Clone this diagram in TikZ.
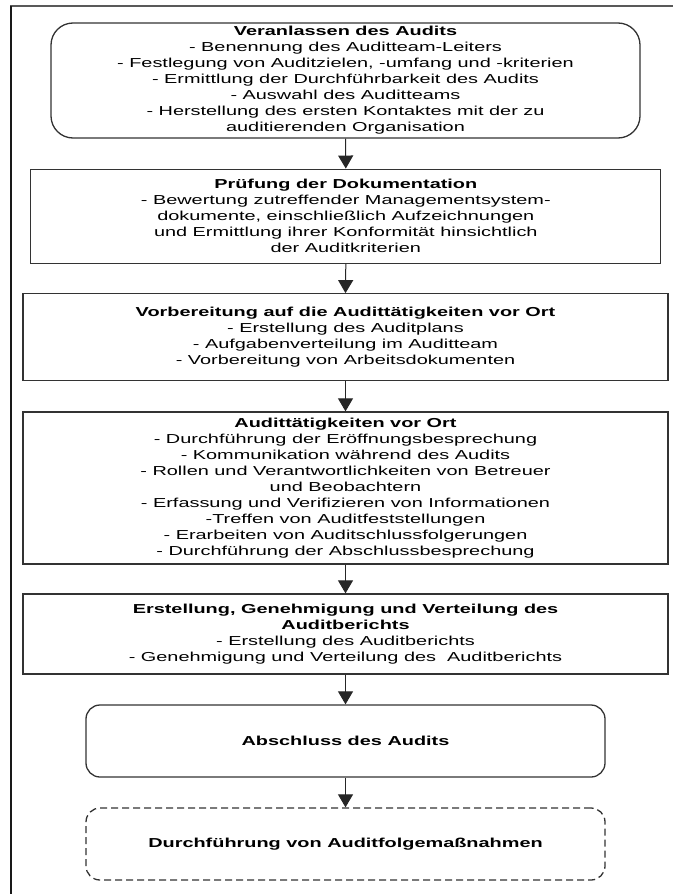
\documentclass[tikz,border=0pt]{standalone}
\usepackage{fontspec}
\setmainfont[FakeStretch=1.53]{Liberation Sans}
\usetikzlibrary{arrows.meta}
\tikzset{
  box/.style={draw=black!80, line width=1.3pt, rectangle, align=center, inner sep=0pt,
    font=\fontsize{13}{16}\selectfont},
  multi/.style={execute at begin node={\rule{0pt}{14.5pt}}},
  rbox/.style={box, rounded corners=22pt},
  dbox/.style={box, rounded corners=14pt, dash pattern=on 7pt off 4pt},
  flow/.style={line width=1pt, draw=black!85, -{Triangle[width=15pt,length=13pt]}},
}
\begin{document}
\begin{tikzpicture}[x=1pt,y=-1pt]
\useasboundingbox (0,0) rectangle (673,894);
% frame
\draw[line width=2pt, black!65] (10,6) -- (673,6);
\draw[line width=1.2pt, black!90] (11,6) -- (11,894);
% boxes
\node[rbox, multi, minimum width=589pt, minimum height=115pt] (b1) at (345.5,80.5)
  {\textbf{Veranlassen des Audits}\\
   - Benennung des Auditteam-Leiters\\
   - Festlegung von Auditzielen, -umfang und -kriterien\\
   - Ermittlung der Durchführbarkeit des Audits\\
   - Auswahl des Auditteams\\
   - Herstellung des ersten Kontaktes mit der zu\\
   auditierenden Organisation};
\node[box, multi, minimum width=630pt, minimum height=94pt] (b2) at (345.8,216.2)
  {\textbf{Prüfung der Dokumentation}\\
   - Bewertung zutreffender Managementsystem-\\
   dokumente, einschließlich Aufzeichnungen\\
   und Ermittlung ihrer Konformität hinsichtlich\\
   der Auditkriterien};
\node[box, multi, minimum width=645pt, minimum height=87pt] (b3) at (345.5,337.3)
  {\textbf{Vorbereitung auf die Audittätigkeiten vor Ort}\\
   - Erstellung des Auditplans\\
   - Aufgabenverteilung im Auditteam\\
   - Vorbereitung von Arbeitsdokumenten};
\node[box, multi, minimum width=645pt, minimum height=152pt] (b4) at (345.5,488)
  {\textbf{Audittätigkeiten vor Ort}\\
   - Durchführung der Eröffnungsbesprechung\\
   - Kommunikation während des Audits\\
   - Rollen und Verantwortlichkeiten von Betreuer\\
   und Beobachtern\\
   - Erfassung und Verifizieren von Informationen\\
   -Treffen von Auditfeststellungen\\
   - Erarbeiten von Auditschlussfolgerungen\\
   - Durchführung der Abschlussbesprechung};
\node[box, multi, minimum width=645pt, minimum height=80pt] (b5) at (345.5,634)
  {\textbf{Erstellung, Genehmigung und Verteilung des}\\
   \textbf{Auditberichts}\\
   - Erstellung des Auditberichts\\
   - Genehmigung und Verteilung des\ \ Auditberichts};
\node[rbox, rounded corners=14pt, minimum width=519pt, minimum height=72pt] (b6) at (345.5,741)
  {\textbf{Abschluss des Audits}};
\node[dbox, minimum width=519pt, minimum height=72pt] (b7) at (345.5,844)
  {\textbf{Durchführung von Auditfolgemaßnahmen}};
% arrows
\draw[flow] (b1.south) -- (b2.north);
\draw[flow] (b2.south) -- (b3.north);
\draw[flow] (b3.south) -- (b4.north);
\draw[flow] (b4.south) -- (b5.north);
\draw[flow] (b5.south) -- (b6.north);
\draw[flow] (b6.south) -- (b7.north);
\end{tikzpicture}
\end{document}
